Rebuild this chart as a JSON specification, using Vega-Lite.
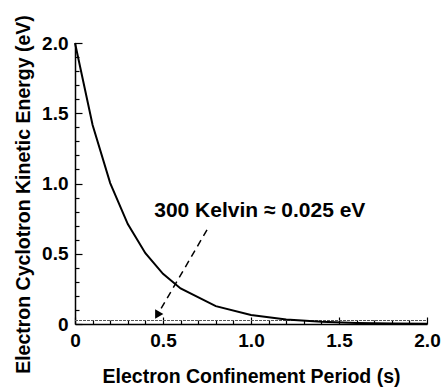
{
  "$schema": "https://vega.github.io/schema/vega-lite/v6.json",
  "width": 352,
  "height": 281,
  "autosize": {"type": "none"},
  "padding": {"left": 75, "top": 43, "right": 18, "bottom": 67},
  "background": "white",
  "config": {
    "view": {"stroke": null},
    "font": "Liberation Sans",
    "axis": {
      "grid": false,
      "domainColor": "black",
      "domainWidth": 1.5,
      "tickColor": "black",
      "tickWidth": 1.2,
      "labelFont": "Liberation Sans",
      "labelFontWeight": "bold",
      "labelFontSize": 19,
      "labelColor": "black",
      "titleFont": "Liberation Sans",
      "titleFontWeight": "bold",
      "titleFontSize": 19.5,
      "titleColor": "black"
    }
  },
  "datasets": {
    "curve": [
      {"t": 0.0, "e": 2.0},
      {"t": 0.1, "e": 1.416},
      {"t": 0.2, "e": 1.003},
      {"t": 0.3, "e": 0.711},
      {"t": 0.4, "e": 0.504},
      {"t": 0.5, "e": 0.357},
      {"t": 0.6, "e": 0.253},
      {"t": 0.8, "e": 0.127},
      {"t": 1.0, "e": 0.064},
      {"t": 1.2, "e": 0.032},
      {"t": 1.4, "e": 0.016},
      {"t": 1.6, "e": 0.008},
      {"t": 1.8, "e": 0.004},
      {"t": 2.0, "e": 0.002}
    ],
    "thermal": [{"t": 0.0, "t2": 2.0, "e": 0.025}],
    "arrow": [{"t": 0.75, "e": 0.67, "t2": 0.467, "e2": 0.062}],
    "head": [{"t": 0.467, "e": 0.062}],
    "label": [{"t": 1.05, "e": 0.76, "text": "300 Kelvin ≈ 0.025 eV"}]
  },
  "resolve": {"axis": {"x": "independent", "y": "independent"}},
  "layer": [
    {
      "data": {"name": "thermal"},
      "mark": {"type": "rule", "color": "#555555", "strokeWidth": 1.2, "strokeDash": [3, 1]},
      "encoding": {
        "x": {"field": "t", "type": "quantitative", "scale": {"domain": [0, 2], "nice": false},
          "axis": {
            "title": "Electron Confinement Period (s)",
            "orient": "bottom",
            "values": [0, 0.5, 1, 1.5, 2],
            "labelExpr": "datum.value == 0 ? '0' : format(datum.value, '.1f')",
            "labelOverlap": false,
            "labelFlush": false,
            "tickSize": -7,
            "labelPadding": 14,
            "titlePadding": 17
          }
        },
        "x2": {"field": "t2"},
        "y": {"field": "e", "type": "quantitative", "scale": {"domain": [0, 2], "nice": false},
          "axis": {
            "title": "Electron Cyclotron Kinetic Energy (eV)",
            "orient": "left",
            "values": [0, 0.5, 1, 1.5, 2],
            "labelExpr": "datum.value == 0 ? '0' : format(datum.value, '.1f')",
            "labelOverlap": false,
            "labelFlush": false,
            "tickSize": -7,
            "labelPadding": 14,
            "titlePadding": 8,
            "titleY": 151
          }
        }
      }
    },
    {
      "data": {"name": "curve"},
      "mark": {"type": "line", "color": "black", "strokeWidth": 2},
      "encoding": {
        "x": {"field": "t", "type": "quantitative",
          "axis": {"orient": "bottom", "title": null, "labels": false, "domain": false, "tickSize": -4,
            "values": [0.1, 0.2, 0.3, 0.4, 0.6, 0.7, 0.8, 0.9, 1.1, 1.2, 1.3, 1.4, 1.6, 1.7, 1.8, 1.9]}},
        "y": {"field": "e", "type": "quantitative",
          "axis": {"orient": "left", "title": null, "labels": false, "domain": false, "tickSize": -4,
            "values": [0.1, 0.2, 0.3, 0.4, 0.6, 0.7, 0.8, 0.9, 1.1, 1.2, 1.3, 1.4, 1.6, 1.7, 1.8, 1.9]}}
      }
    },
    {
      "data": {"name": "arrow"},
      "mark": {"type": "rule", "color": "black", "strokeWidth": 1.5, "strokeDash": [7, 5]},
      "encoding": {
        "x": {"field": "t", "type": "quantitative", "axis": null},
        "y": {"field": "e", "type": "quantitative", "axis": null},
        "x2": {"field": "t2"},
        "y2": {"field": "e2"}
      }
    },
    {
      "data": {"name": "head"},
      "mark": {"type": "point", "shape": "triangle-down", "filled": true, "color": "black", "opacity": 1, "size": 90, "angle": 30},
      "encoding": {
        "x": {"field": "t", "type": "quantitative", "axis": null},
        "y": {"field": "e", "type": "quantitative", "axis": null}
      }
    },
    {
      "data": {"name": "label"},
      "mark": {"type": "text", "font": "Liberation Sans", "fontWeight": "bold", "fontSize": 21, "color": "black", "align": "center", "baseline": "alphabetic"},
      "encoding": {
        "x": {"field": "t", "type": "quantitative", "axis": null},
        "y": {"field": "e", "type": "quantitative", "axis": null},
        "text": {"field": "text"}
      }
    }
  ]
}
